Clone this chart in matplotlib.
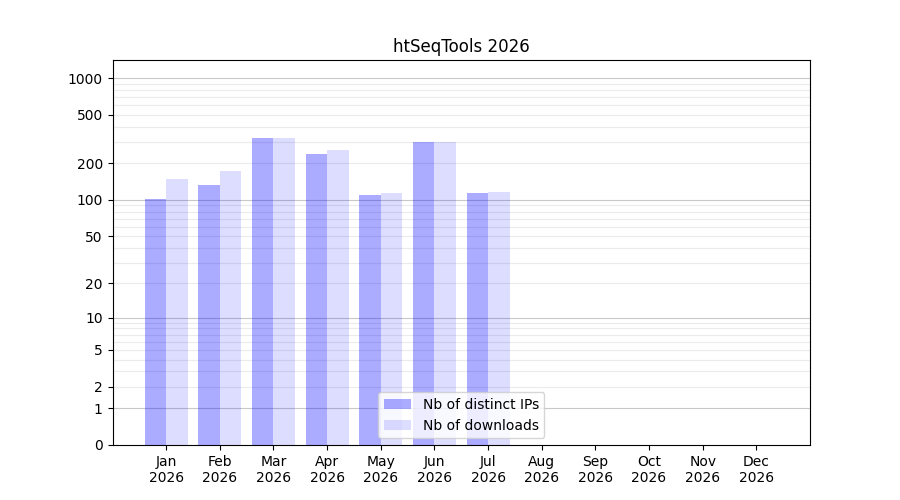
import numpy as np
import matplotlib
matplotlib.use('Agg')
import matplotlib.pyplot as plt

year = 2026
months = ["Jan", "Feb", "Mar", "Apr", "May", "Jun",
          "Jul", "Aug", "Sep", "Oct", "Nov", "Dec"]
# values (months without data are 0)
nb_ips = [102, 133, 323, 239, 110, 299, 113, 0, 0, 0, 0, 0]
nb_downloads = [149, 173, 323, 257, 114, 299, 116, 0, 0, 0, 0, 0]
ytick_values = [0, 1, 2, 5, 10, 20, 50, 100, 200, 500, 1000]


def fwd(v):
    v = np.asarray(v, dtype=float)
    return np.sign(v) * np.log10(1 + np.abs(v))


def inv(v):
    v = np.asarray(v, dtype=float)
    return np.sign(v) * (10 ** np.abs(v) - 1)


fig, ax = plt.subplots(figsize=(9, 5), dpi=100)
x = np.arange(1, len(months) + 1)

ax.set_yscale('function', functions=(fwd, inv))

# light grid at 2..9 of each decade, darker at the decades
minor = [m * 10 ** k for k in range(3) for m in range(2, 10)]
for v in minor:
    ax.axhline(v, color='#ebebeb', lw=0.8, zorder=0)
for v in [1, 10, 100, 1000]:
    ax.axhline(v, color='#c8c8c8', lw=0.8, zorder=0)

ax.bar(x - 0.2, nb_ips, width=0.4, color='blue', alpha=0.33,
       label="Nb of distinct IPs", zorder=1)
ax.bar(x + 0.2, nb_downloads, width=0.4, color='blue', alpha=0.135,
       label="Nb of downloads", zorder=1)

ax.set_xlim(0, 13)
ax.set_ylim(0, 1405)
ax.set_yticks(ytick_values)
ax.set_yticklabels([str(v) for v in ytick_values])
ax.yaxis.set_minor_locator(matplotlib.ticker.NullLocator())
ax.set_xticks(x)
ax.set_xticklabels([f"{m}\n{year}" for m in months])
ax.set_title(f"htSeqTools {year}")
ax.legend(loc='lower center')

plt.savefig("out.png", dpi=100)
plt.close(fig)
